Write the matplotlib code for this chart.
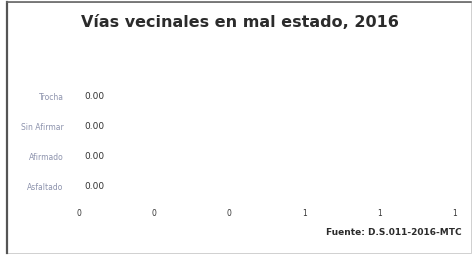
import matplotlib.pyplot as plt
from matplotlib.patches import Rectangle
from matplotlib.ticker import FormatStrFormatter

# Chart data
CATEGORIES = ["Trocha", "Sin Afirmar", "Afirmado", "Asfaltado"]
VALUES = [0.00, 0.00, 0.00, 0.00]
TITLE = "Vías vecinales en mal estado, 2016"
SOURCE = "Fuente: D.S.011-2016-MTC"

fig = plt.figure(figsize=(4.75, 2.56), dpi=100)
fig.patch.set_facecolor("white")

# outer frame of the picture
fig.patches.append(Rectangle((0.015, 0.012), 0.977, 0.98, transform=fig.transFigure,
                             fill=False, edgecolor="#d0d0d0", linewidth=0.7))
fig.add_artist(plt.Line2D([0.015, 0.015], [0.012, 0.992], transform=fig.transFigure,
                          color="#555555", linewidth=1.6))
fig.add_artist(plt.Line2D([0.015, 0.992], [0.992, 0.992], transform=fig.transFigure,
                          color="#666666", linewidth=1.2))

ax = fig.add_axes([0.166, 0.215, 0.792, 0.465])
bars = ax.barh(range(len(CATEGORIES)), VALUES, height=0.6, color="#4472c4")
ax.set_xlim(0, 1)
ax.set_ylim(-0.5, len(CATEGORIES) - 0.5)
ax.invert_yaxis()

ax.set_yticks(range(len(CATEGORIES)))
ax.set_yticklabels(CATEGORIES, fontsize=5.5, color="#8d93ad")
ax.set_xticks([0, 0.2, 0.4, 0.6, 0.8, 1.0])
ax.xaxis.set_major_formatter(FormatStrFormatter("%.0f"))
ax.tick_params(axis="x", length=0, pad=6, labelsize=5.5, labelcolor="#333333")
ax.tick_params(axis="y", length=0, pad=11)
for s in ax.spines.values():
    s.set_visible(False)

for i, v in enumerate(VALUES):
    ax.annotate(f"{v:.2f}", (v, i), xytext=(4, 0), textcoords="offset points",
                va="center", ha="left", fontsize=6.5, color="#333333")

fig.text(0.505, 0.912, TITLE, ha="center", va="center", fontsize=11.5,
         fontweight="bold", color="#2b2b2b")
fig.text(0.971, 0.093, SOURCE, ha="right", va="center", fontsize=6.5,
         fontweight="bold", color="#2b2b2b")

fig.savefig("out.png", dpi=100, facecolor="white")
